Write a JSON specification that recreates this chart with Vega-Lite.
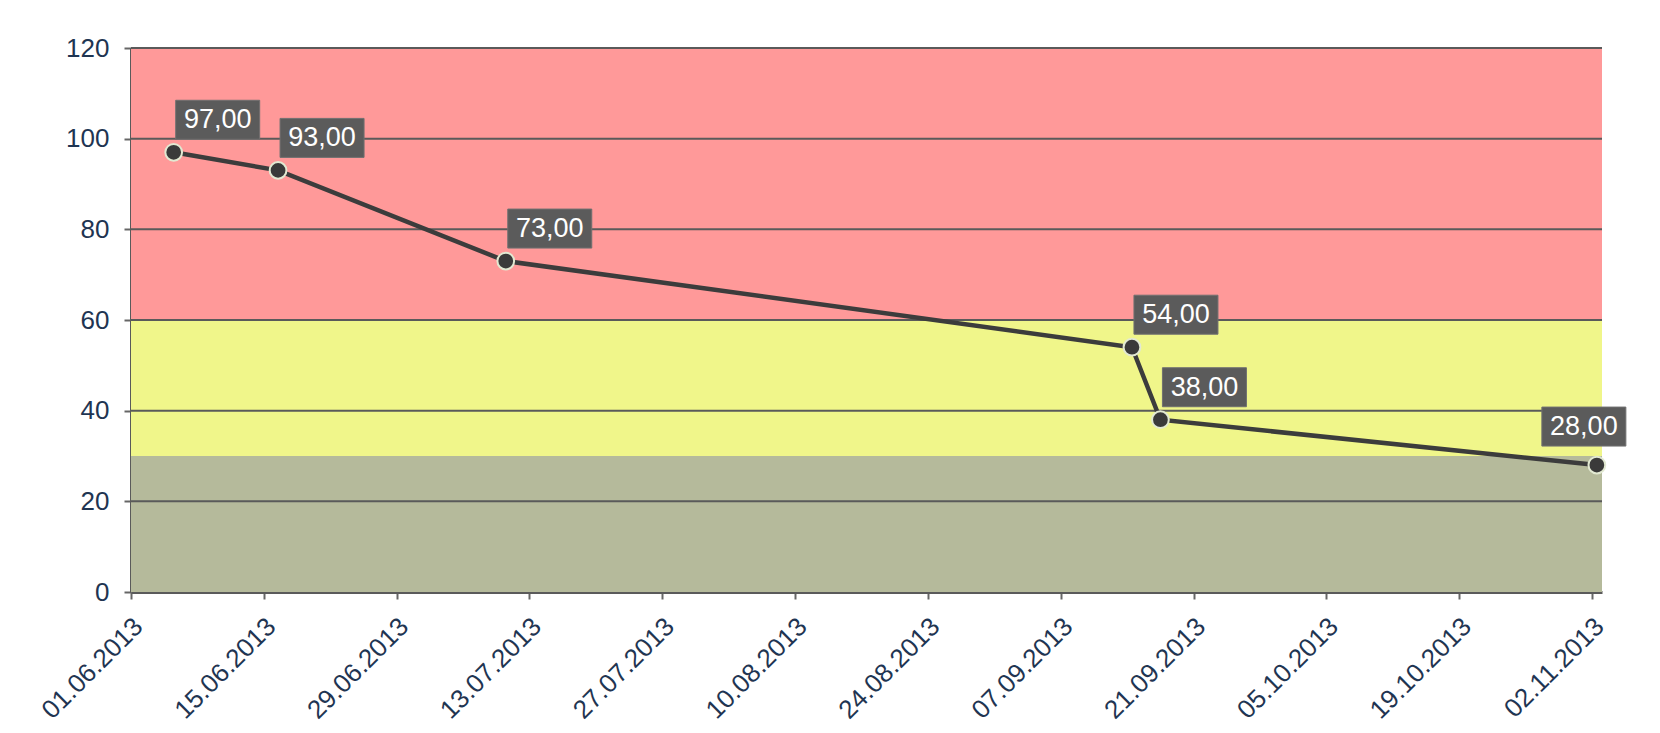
{
  "$schema": "https://vega.github.io/schema/vega-lite/v6.json",
  "width": 1471,
  "height": 544,
  "autosize": {"type": "none"},
  "padding": {"left": 131, "top": 48, "right": 58, "bottom": 141},
  "background": "white",
  "config": {
    "locale": {"number": {"decimal": ",", "thousands": ".", "grouping": [3], "currency": ["", " €"]}},
    "view": {"stroke": null},
    "font": "Liberation Sans"
  },
  "datasets": {
    "series": [
      {"date": "2013-06-05T12:00:00Z", "value": 97},
      {"date": "2013-06-16T12:00:00Z", "value": 93},
      {"date": "2013-07-10T12:00:00Z", "value": 73},
      {"date": "2013-09-14T12:00:00Z", "value": 54},
      {"date": "2013-09-17T12:00:00Z", "value": 38},
      {"date": "2013-11-02T12:00:00Z", "value": 28}
    ],
    "bands": [
      {"from": 0, "to": 30, "zone": "low"},
      {"from": 30, "to": 60, "zone": "mid"},
      {"from": 60, "to": 120, "zone": "high"}
    ],
    "grid": [{"level": 20}, {"level": 40}, {"level": 60}, {"level": 80}, {"level": 100}, {"level": 120}]
  },
  "layer": [
    {
      "data": {"name": "bands"},
      "mark": {"type": "rect"},
      "encoding": {
        "y": {
          "field": "from", "type": "quantitative",
          "scale": {"domain": [0, 120], "nice": false, "zero": true},
          "axis": {
            "title": null, "values": [0, 20, 40, 60, 80, 100, 120], "grid": false,
            "domainColor": "#5a5a5a", "domainWidth": 3,
            "tickColor": "#666666", "tickWidth": 2, "tickSize": 7,
            "labelFontSize": 26, "labelColor": "#1f3552", "labelPadding": 15,
            "labelFlush": false, "labelOverlap": false
          }
        },
        "y2": {"field": "to"},
        "color": {
          "field": "zone", "type": "nominal",
          "scale": {"domain": ["low", "mid", "high"], "range": ["#B5BA9B", "#F0F68A", "#FF9999"]},
          "legend": null
        }
      }
    },
    {
      "data": {"name": "grid"},
      "mark": {"type": "rule", "color": "#5a5a5a", "strokeWidth": 2},
      "encoding": {"y": {"field": "level", "type": "quantitative"}}
    },
    {
      "data": {"name": "series"},
      "mark": {"type": "line", "color": "#3c3c3c", "strokeWidth": 4.5},
      "encoding": {
        "x": {
          "field": "date", "type": "temporal",
          "scale": {"type": "utc", "domain": [
            {"year": 2013, "month": 6, "date": 1, "utc": true},
            {"year": 2013, "month": 11, "date": 3, "hours": 1, "utc": true}
          ]},
          "axis": {
            "title": null, "format": "%d.%m.%Y", "grid": false,
            "values": [
              {"year": 2013, "month": 6, "date": 1, "utc": true},
              {"year": 2013, "month": 6, "date": 15, "utc": true},
              {"year": 2013, "month": 6, "date": 29, "utc": true},
              {"year": 2013, "month": 7, "date": 13, "utc": true},
              {"year": 2013, "month": 7, "date": 27, "utc": true},
              {"year": 2013, "month": 8, "date": 10, "utc": true},
              {"year": 2013, "month": 8, "date": 24, "utc": true},
              {"year": 2013, "month": 9, "date": 7, "utc": true},
              {"year": 2013, "month": 9, "date": 21, "utc": true},
              {"year": 2013, "month": 10, "date": 5, "utc": true},
              {"year": 2013, "month": 10, "date": 19, "utc": true},
              {"year": 2013, "month": 11, "date": 2, "utc": true}
            ],
            "domainColor": "#5a5a5a", "domainWidth": 3,
            "tickColor": "#666666", "tickWidth": 2, "tickSize": 7,
            "labelFontSize": 26, "labelColor": "#1f3552", "labelAngle": -45,
            "labelAlign": "right", "labelBaseline": "top", "labelPadding": 14,
            "labelOffset": -2,
            "labelFlush": false, "labelOverlap": false
          }
        },
        "y": {"field": "value", "type": "quantitative"}
      }
    },
    {
      "data": {"name": "series"},
      "mark": {"type": "circle", "size": 280, "fill": "#3a3a3a", "stroke": "#e2e9d2", "strokeWidth": 2, "opacity": 1},
      "encoding": {
        "x": {"field": "date", "type": "temporal"},
        "y": {"field": "value", "type": "quantitative"}
      }
    },
    {
      "data": {"name": "series"},
      "mark": {"type": "point", "size": 4, "filled": true, "fill": "#5b5b5b", "stroke": "#707070", "strokeWidth": 1, "opacity": 1},
      "encoding": {
        "x": {"field": "date", "type": "temporal"},
        "y": {"field": "value", "type": "quantitative"},
        "shape": {
          "condition": {"test": "datum.value == 28", "value": "M-55,-19H29V-58H-55Z"},
          "value": "M2,-13H86V-52H2Z"
        }
      }
    },
    {
      "data": {"name": "series"},
      "transform": [{"filter": "datum.value != 28"}],
      "mark": {"type": "text", "color": "white", "fontSize": 27, "align": "center", "baseline": "middle", "dx": 44, "dy": -32},
      "encoding": {
        "x": {"field": "date", "type": "temporal"},
        "y": {"field": "value", "type": "quantitative"},
        "text": {"field": "value", "type": "quantitative", "format": ".2f"}
      }
    },
    {
      "data": {"name": "series"},
      "transform": [{"filter": "datum.value == 28"}],
      "mark": {"type": "text", "color": "white", "fontSize": 27, "align": "center", "baseline": "middle", "dx": -13, "dy": -38},
      "encoding": {
        "x": {"field": "date", "type": "temporal"},
        "y": {"field": "value", "type": "quantitative"},
        "text": {"field": "value", "type": "quantitative", "format": ".2f"}
      }
    }
  ]
}
